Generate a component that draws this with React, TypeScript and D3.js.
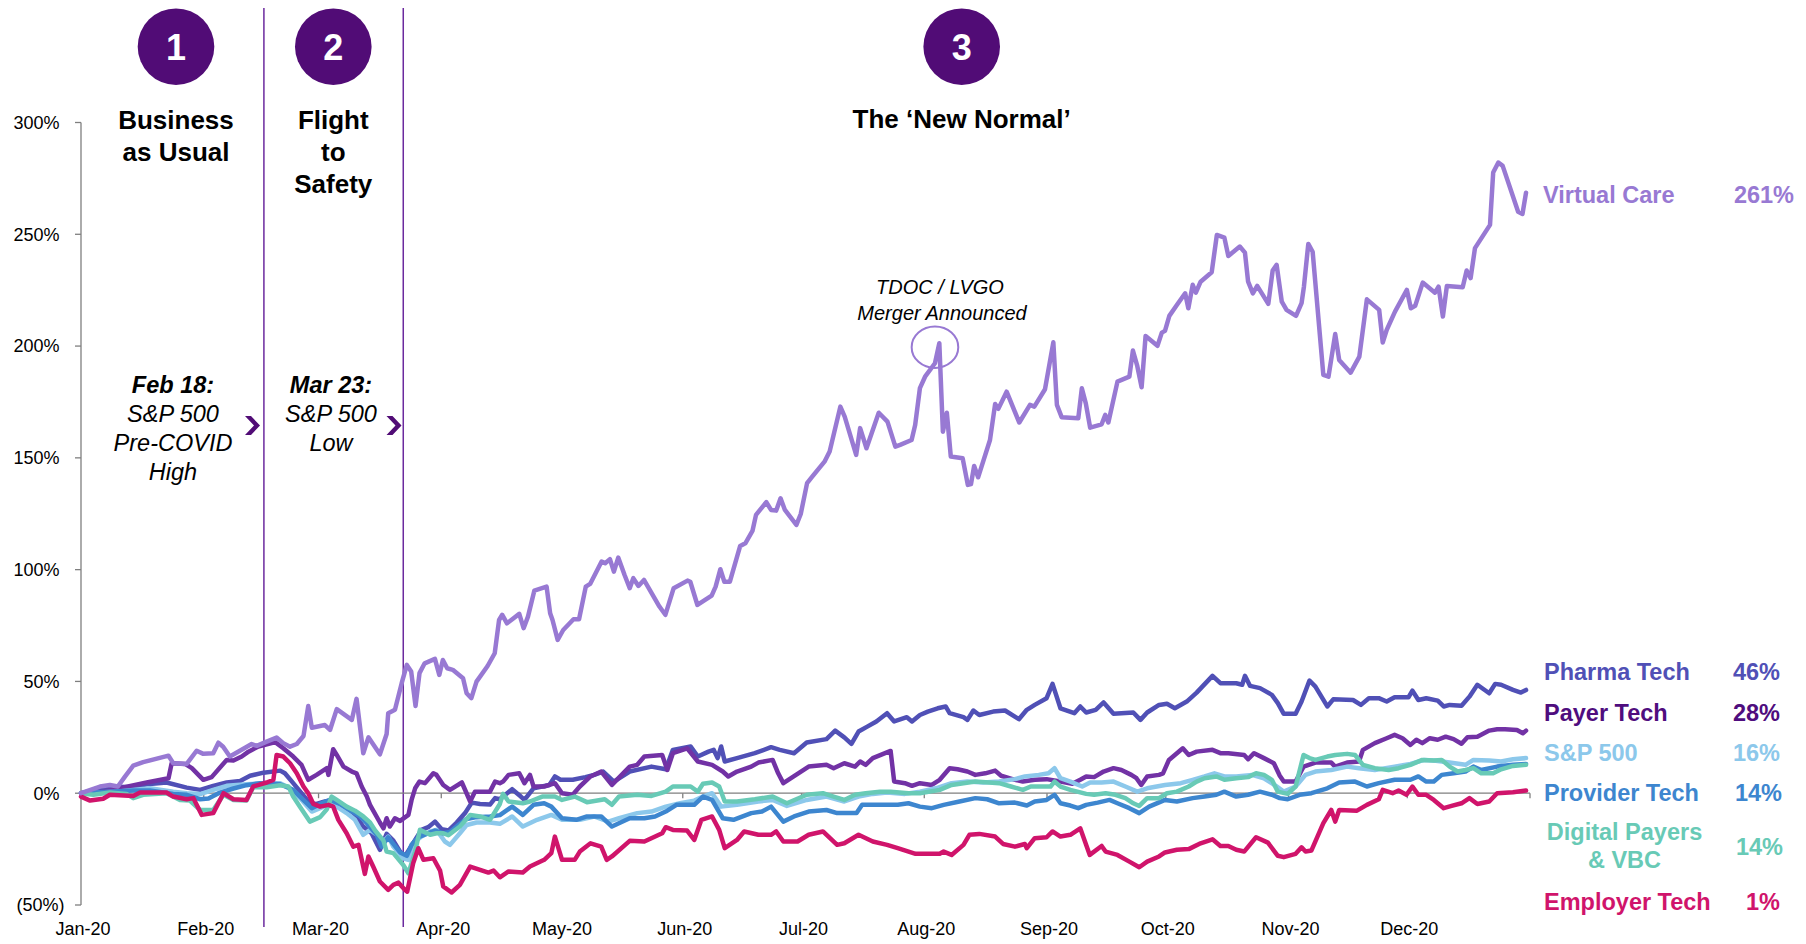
import React from "react";
import * as d3 from "d3";

// ---------- DATA (day offset from 1 Jan 2020, cumulative return %) ----------
const virtualCare: [number, number][] = [
  [0,0],[4.8,3],[7.3,3.7],[9.3,3],[11.1,7.4],[13.2,12.3],[15.7,13.9],[22.1,16.8],[23.3,13.4],[26.7,13.1],[29.2,19],[30.9,17.6],[33.4,17.9],[34.7,22.6],[35.9,20.8],[37.6,16.4],[41.9,20.8],[43.1,22],[44.4,21.2],[46.9,23.1],[49.4,24.9],[51.1,22.4],[52.8,20.8],[54.5,22],[56.2,25.6],[57.4,39],[58.3,29.3],[61.6,30.5],[62.9,28.3],[64.6,37.6],[68.4,32.8],[69.6,42.2],[71.3,17.9],[72.6,25],[75.5,17.4],[77.2,26.5],[77.6,35.8],[79.3,37.3],[81,49.2],[82.3,57.4],[83.4,54.4],[84.5,39],[85.5,53.7],[86.8,58.1],[89.4,60.1],[90.5,52.9],[91.4,59.6],[92.5,55.9],[93.9,55.2],[96.5,51.4],[97.4,44.7],[98.6,42.5],[99.9,49.9],[102.7,56.9],[104.5,62.6],[105.6,77.5],[106.4,79.8],[107.6,76],[110.7,80.2],[111.8,73.8],[112.9,79],[114.5,90.6],[117.6,92.4],[118.5,80.5],[119.1,77.5],[120.4,68.6],[121.8,73],[124.4,77.8],[125.8,77.8],[127.5,92.4],[128.6,93.6],[131.5,103.6],[132.4,102.9],[133.6,104.7],[134.6,99.1],[135.7,105.4],[137.3,97.6],[138.6,91.7],[139.5,96.2],[140.8,92.7],[142.2,95.4],[146.1,83.5],[147.6,79.8],[149.7,91.7],[153.2,95.1],[153.9,94.6],[155.7,84.2],[159.3,88.4],[160.3,92.4],[161.5,100.2],[162.5,94.6],[163.9,94.6],[166.5,110.6],[167.8,111.8],[169.6,117.3],[170.5,124.5],[173.1,130.2],[174.3,126.7],[175.6,126.4],[176.7,131.9],[177.8,126.7],[180.7,120],[181.8,124.9],[183.4,138.7],[184.7,141.6],[187.8,148.3],[189.1,152.8],[191.8,172.9],[192.9,168.4],[195.8,151.3],[196.8,163.3],[198.4,154.3],[201.5,170.2],[203.7,166.2],[205.7,155],[206.9,155.8],[209.8,158],[210.7,164.7],[211.9,181.2],[213.2,186.3],[215.7,192.3],[216.8,201.3],[217.7,161.7],[218.7,170.2],[219.7,150.6],[222.7,149.8],[224,137.9],[224.8,138.3],[225.6,146.4],[226.6,141.3],[229.6,158],[230.9,174.1],[231.7,171.9],[233.8,179.6],[237,165.8],[239.7,173.7],[240.8,172.9],[243.5,180.7],[245.6,201.7],[246.5,173.7],[247.7,168.2],[251.9,167.7],[252.8,181.1],[253.8,174.4],[254.9,163.5],[257.8,165],[258.7,169.2],[259.5,165.8],[261.8,184.1],[264.8,186.3],[265.7,198],[266.8,191.1],[267.9,181.6],[268.9,204.5],[271.9,200.1],[273,206],[273.8,206.8],[274.9,213.5],[276.8,218.4],[278.9,223.6],[279.7,216.9],[280.8,227.4],[281.6,223.9],[282.8,228.8],[285.6,233],[286.9,249.7],[288.8,248.5],[289.8,240.3],[292.7,244.5],[294,241.8],[294.8,228.8],[296,223.6],[297.1,226.9],[299.9,218.9],[301,233.8],[302,236.3],[303.3,219.9],[304.5,216.2],[306.9,213.5],[308.3,219.2],[308.9,226.6],[310,245.7],[311.1,242.2],[313.8,187.1],[315.1,186.3],[316.8,205.4],[317.8,193.8],[320.7,188.1],[322.9,195.3],[324.8,220.9],[327.9,216.2],[328.8,201.6],[329.8,207.2],[331.9,215.4],[334.9,225.1],[335.9,216.9],[337,218],[338.9,228.4],[342,223.9],[342.9,226.6],[344,213.2],[345,226.9],[349,226.3],[350,233.8],[351,230.4],[352.1,243.8],[355.9,254.2],[356.7,277.6],[358,282.1],[359.1,280.6],[363,260.1],[364.1,259.1],[365,268.6]
];

const pharmaTech: [number, number][] = [
  [0,0],[7.3,3],[13.2,2.7],[16.6,4],[21.6,4.8],[26.7,2.5],[30.1,1.5],[33.4,3.3],[36.8,4.8],[40.2,5.5],[42.7,7.8],[46.1,9.2],[50.3,10.1],[51.5,8.9],[53.6,4.5],[55.7,0],[57.8,-4.5],[59.5,-4.8],[61.6,-3.7],[63.7,-3],[66.3,-6],[68.8,-8.9],[71.3,-14.9],[73.4,-17.9],[75.5,-25.3],[77.2,-18.2],[78.9,-21.2],[80.6,-26.1],[81.8,-28.3],[83.1,-24.6],[84.4,-20.9],[86,-16.4],[87.7,-15.2],[89.4,-12.7],[91.1,-16.1],[92.8,-16.7],[94.9,-13.1],[97,-8.9],[98.7,-4.2],[100.8,-4.8],[103.3,-5.1],[104.6,-2.2],[105.8,-2.7],[108.9,1.8],[111.1,-1.5],[112,-3],[114.3,2.2],[118.3,3.7],[119.7,7.5],[121.1,6],[124.2,6],[127.4,7.2],[129.6,8.2],[131.9,9.7],[134.6,5.2],[138.6,9.7],[144.1,11.9],[147.7,10.7],[149.5,19.4],[154,20.9],[155.8,16.4],[158.5,18.6],[159.8,19.4],[160.8,15.7],[161.7,20.9],[162.6,14.2],[165.7,15.7],[170.2,17.9],[174.3,20.6],[176.5,19.4],[180.1,17.9],[183.3,22.7],[188.3,24.2],[190.5,28],[192.8,25],[194.6,22.1],[196.4,27.6],[198.6,29.8],[200.9,32.1],[203.6,35.8],[205.4,32.1],[208.6,34],[209.9,32.1],[211.9,35],[213.9,36.5],[216.4,38],[218.4,38.8],[219.4,35.8],[222.9,34],[223.9,32.8],[225.4,37],[226.9,35],[230.4,36.5],[233.4,37],[236.9,33.1],[238.9,37.3],[240.9,39.5],[243.9,42.5],[245.4,48.9],[247.4,38],[250.9,35.8],[252.4,38.8],[253.9,36.1],[256.3,37.3],[258.3,40.6],[260.8,35.5],[265.8,36.1],[267.6,32.8],[269.3,36.1],[272.3,39.5],[274.3,40],[276.3,38],[279.3,41],[281.8,45],[285.8,52.5],[287.8,49.2],[291.8,49.2],[293.3,48.5],[294,52.5],[295.3,48],[297.8,47],[300.8,44],[302.3,40.3],[303.8,35.5],[306.8,35.5],[308.3,41],[310.3,50.4],[311.8,47.7],[314.8,38.8],[316.3,42],[321.3,41.7],[323.3,39.5],[325.3,42.5],[327.8,42.5],[329.8,41],[331.8,42.9],[335.3,42.9],[336.3,45.9],[337.8,41.7],[339.8,42.5],[342.7,41.4],[344.2,38.8],[345.7,39.5],[348.7,39.1],[350.7,43.2],[352.7,48.5],[355.7,44.7],[357.2,48.9],[358.7,48.5],[361.7,46.2],[363.7,45],[365,46.2]
];

const payerTech: [number, number][] = [
  [0,0],[4.8,0.3],[16.6,4.8],[22.1,6.7],[22.9,13.4],[26.3,13.1],[28,11.2],[30.9,6],[33,7.2],[36.8,14.9],[38.5,14.6],[40.6,16.4],[42.3,18.6],[44.8,20.9],[48.6,22.7],[49.4,22.4],[51.1,20.1],[53.6,16.4],[55.7,12.7],[57.4,6],[59.5,8.2],[62.1,11.2],[62.5,8.2],[63.7,19.7],[64.6,17.1],[66.3,11.9],[68.4,9.7],[69.6,8.9],[70.9,3],[72.2,-1.5],[73,-5.2],[75.5,-13.1],[76.4,-15.7],[77.2,-11.2],[78,-14.9],[79.3,-11.2],[80.6,-12.4],[82.7,-9.7],[83.5,-3],[84.4,2.2],[85.5,5.2],[86.9,4.5],[89,8.9],[89.8,8.2],[91.5,3.7],[93.2,1.5],[96.2,4.8],[98.3,-3.7],[99.5,0.7],[103.3,0.7],[104.6,5.2],[105.8,4.5],[106.6,5.2],[108,8.2],[110.7,8.9],[112,4.5],[113.4,8.2],[114.3,3],[117,3],[119.7,4.5],[121.5,0],[124.2,-0.7],[126,3],[128.7,7.5],[131.4,9.7],[134.1,3.7],[138.6,11.9],[140.5,12.7],[142.3,16.4],[146.8,17.1],[148.1,10.4],[149.5,17.9],[153.1,20.1],[155.8,14.2],[159.4,12.7],[162.1,9.7],[163.5,7.5],[165.7,9.7],[169.3,11.9],[171.1,13.7],[174.7,14.9],[176.1,8.9],[177.4,4.5],[180.6,8.2],[183.8,11.9],[188.3,12.7],[190.1,11.2],[192.8,13.4],[195.5,11.9],[196.8,14.2],[198.2,12.7],[200,15.7],[204.5,18.9],[205.4,5.2],[208.1,4.5],[209.9,3.3],[211.9,4.5],[214.9,3.7],[216.9,6],[219.4,11.2],[221.4,10.7],[223.9,9.7],[225.9,8.2],[228.4,8.9],[230.9,10.1],[232.4,7.8],[235.9,6],[237.9,5.2],[240.9,6],[243.9,6.3],[247.4,5.2],[250.4,4.2],[252.4,6],[253.9,7.5],[255.9,7.2],[258.3,9.7],[260.8,11.2],[262.8,10.4],[265.3,8.2],[266.6,6.7],[267.8,3.7],[269.3,7.5],[272.3,8.2],[273.3,8.9],[274.8,14.9],[278.3,20.1],[279.8,17.1],[281.8,18.6],[285.8,19.4],[287.8,17.9],[289.8,17.9],[293.8,17.1],[294.8,15.2],[296.3,17.9],[298.8,15.7],[301.3,13.4],[302.8,7.8],[303.8,5.2],[306.8,5.2],[308.8,11.9],[311.8,13.7],[315.8,13.7],[316.8,11.9],[319.8,13.7],[322.8,14.2],[323.8,19.4],[326.8,22.4],[329.8,24.6],[331.8,26.1],[333.8,24.6],[335.8,21.6],[337.3,23.9],[338.8,22.4],[340.7,24.6],[342.7,23.9],[344.7,25.3],[346.7,24.2],[348.7,22.1],[350.2,25],[352.7,25.3],[355.7,28],[357.7,28.6],[359.7,28.6],[362.7,28.3],[364.2,26.8],[365,28]
];

const sp500: [number, number][] = [
  [0,0],[9,0.7],[17.4,2.2],[23.3,0.7],[26.7,0],[30.1,-0.4],[33.4,1.5],[36.8,3.3],[41.8,4],[46.9,4.5],[50.3,4.5],[52.8,2.2],[55.3,-2.2],[58.3,-8.2],[60.4,-6.7],[62.9,-4.5],[64.6,-6],[67.1,-8.9],[69.2,-11.9],[71.3,-18.6],[73,-16.4],[74.7,-18.6],[76.4,-21.6],[77.6,-19.4],[78.9,-23.9],[81.4,-29.1],[82.7,-29.8],[84.4,-21.6],[86,-19.4],[88.2,-17.1],[89.8,-16.4],[91.9,-21.6],[93.2,-23.1],[95.7,-17.9],[97.4,-14.2],[99.9,-13.1],[103.3,-13.1],[105.8,-13.7],[108.9,-10.4],[111.6,-14.9],[115.2,-11.9],[118.8,-9.7],[121.5,-11.9],[126,-11.9],[129.6,-10.4],[133.2,-12.7],[135.9,-11.2],[140.5,-8.9],[144.1,-8.2],[147.7,-6],[151.3,-4.5],[154.9,-3.3],[157.1,-1.5],[159.4,0],[161.7,-6],[165.7,-5.2],[171.1,-3.7],[174.7,-3],[178.3,-5.7],[183.3,-3],[188.3,-1.5],[192.8,-3.7],[196.4,-1.5],[200,-0.3],[203.6,0.3],[208.1,-0.3],[211.9,0.7],[215.9,2.2],[219.9,4.5],[223.9,5.2],[227.9,4.8],[231.9,5.2],[235.9,6.3],[238.4,7.5],[241.9,8.2],[244.4,8.9],[245.9,11.2],[247.4,6.7],[249.9,5.2],[252.9,3],[254.9,4.8],[257.8,4.8],[260.8,5.2],[263.8,3],[266.8,0.7],[269.3,2.2],[273.8,3.7],[277.8,4.5],[280.8,6],[283.8,7.5],[286.3,8.9],[288.8,7.5],[291.8,7.5],[295.8,8.2],[298.8,6.7],[301.8,3.3],[303.8,0.7],[306.8,3],[309.3,8.2],[311.8,9.7],[315.8,10.4],[319.8,11.9],[322.8,11.2],[326.8,10.4],[331.8,11.9],[335.8,13.1],[339.3,14.9],[341.7,14.6],[345.7,13.7],[349.7,12.7],[351.7,14.9],[355.7,14.6],[358.7,14.2],[361.7,15.2],[365,15.7]
];

const providerTech: [number, number][] = [
  [0,0],[13.2,1.2],[17.4,1.2],[23.3,-0.3],[26.7,-0.7],[30.1,-2.7],[32.2,-2.4],[35.1,0.3],[38.5,2.1],[41.8,3.6],[45.2,4.5],[50.3,4],[53.6,1.5],[55.7,-2.2],[58.3,-6.7],[60.4,-4.8],[62.9,-3],[65.4,-4.8],[67.9,-7.5],[70.5,-10.4],[72.2,-13.4],[74.7,-18.6],[75.9,-23.9],[77.6,-19.7],[79.3,-23.6],[80.6,-26.5],[82.3,-28],[83.5,-23.1],[85.2,-19.7],[87.3,-18.2],[89.4,-16.7],[91.5,-17.9],[93.2,-17.3],[95.7,-13.7],[97.4,-11.5],[99.9,-10.7],[103.3,-10.4],[105.8,-9.8],[108.9,-6],[111.6,-9.7],[114.3,-5.2],[117,-4.5],[118.8,-6],[121.5,-11.2],[125.1,-11.9],[127.8,-10.4],[131.4,-10.4],[134.1,-14.9],[138.6,-11.2],[142.3,-11.2],[145,-10.4],[147.7,-8.2],[150.4,-5.2],[154.9,-5.2],[157.1,-1.5],[159.4,-3],[162.1,-11.2],[164.8,-11.9],[169.3,-8.9],[172,-8.2],[174.3,-6],[177.4,-12.7],[180.1,-10.4],[183.8,-8.2],[188.3,-7.5],[191,-8.9],[195.9,-8.9],[197.3,-5.2],[201.8,-5.2],[206.3,-5.2],[209,-4.5],[211.9,-6],[214.9,-6.7],[217.9,-5.2],[221.9,-3.7],[225.9,-2.2],[228.9,-2.7],[231.9,-4.5],[235.9,-4.2],[238.9,-5.5],[240.9,-3.7],[243.9,-3],[245.9,-0.7],[247.4,-4.5],[249.9,-5.5],[251.9,-6.7],[253.9,-5.2],[256.8,-4.2],[259.8,-3],[261.8,-4.5],[264.8,-6.7],[267.3,-8.9],[269.8,-6],[273.8,-3],[276.8,-3.7],[280.8,-2.2],[283.8,-1.5],[286.8,-0.7],[288.8,0.7],[291.8,-1.5],[294.8,-0.7],[297.8,0.7],[300.8,-0.7],[302.8,-2.2],[304.8,-2.7],[307.8,-0.7],[310.8,0],[314.8,2.2],[317.8,4.8],[321.8,5.2],[324.8,3],[327.8,4.5],[331.8,6],[335.8,6],[337.8,7.5],[339.8,5.2],[341.7,5.2],[343.7,8.2],[346.7,8.9],[349.7,9.7],[351.7,11.9],[353.7,10.4],[357.7,11.9],[361.7,12.7],[365,13.1]
];

const digitalPayers: [number, number][] = [
  [0,0],[3.1,-0.7],[7.3,0.3],[11.5,-0.3],[13.2,-2.2],[15.7,-0.7],[21.6,0],[25,-3],[27.5,-3.3],[30.1,-7.5],[33.4,-7.5],[36,-0.7],[38.5,-3],[41.8,-3.3],[43.5,2.7],[46.9,2.7],[50.3,3.6],[52.4,3],[53.6,-1.5],[55.3,-6],[57.8,-12.7],[60.4,-10.7],[62.1,-7.2],[63.3,-1.5],[64.6,-3],[67.1,-6],[69.2,-7.8],[71.3,-10.4],[73,-13.1],[74.3,-16.7],[76.4,-21.2],[77.2,-26.1],[78.9,-26.8],[81.4,-32.1],[82.7,-35.8],[84.4,-26.1],[85.6,-16.4],[88.2,-18.6],[89.8,-17.9],[91.5,-17.9],[92.8,-18.8],[95.7,-14.9],[98.3,-9.7],[100.8,-10.4],[103.3,-11.9],[105.8,-4.8],[106.6,-0.3],[108,-3.7],[111.6,-4.5],[113.4,-3.7],[116.5,-1.5],[119.7,-1.5],[121.5,-3],[124.7,-1.5],[127.8,-4],[132.3,-2.7],[134.1,-5.2],[135.9,-1.5],[140.5,-0.7],[144.1,-1.2],[147.7,0.7],[149.5,3],[154,3],[155.8,0.7],[157.1,4.2],[159.4,4.8],[161.2,3],[162.6,-3.7],[165.7,-3.7],[170.2,-2.7],[174.7,-1.5],[178.3,-4.5],[183.3,-0.7],[187.4,0],[190.1,-1.5],[192.8,-3],[195.5,-0.7],[198.2,0],[201.8,0.7],[204.5,0.7],[209,0],[211.9,0],[216.9,1.5],[219.9,3.7],[222.9,4.5],[225.9,5.2],[231.9,4.5],[234.9,3],[237.9,1.5],[239.9,3],[244.9,3],[245.9,5.2],[247.4,3],[249.9,1.5],[253.9,-0.3],[255.9,-0.7],[258.8,0],[261.3,-0.7],[263.8,-2.2],[265.8,-4.5],[267.3,-5.7],[269.3,-2.2],[272.3,-2.2],[274.3,0],[276.8,0.7],[279.8,3],[281.8,5.2],[283.8,6.7],[286.8,7.5],[288.8,6],[291.8,6.7],[294.8,7.2],[296.8,8.9],[298.8,8.2],[300.8,6],[302.3,0.7],[304.8,-0.3],[306.8,3],[308.8,17.1],[310.3,15.7],[311.8,14.9],[314.8,16.4],[316.8,17.1],[319.8,17.6],[321.8,17.1],[323.8,12.7],[326.8,11.2],[330.3,10.4],[332.8,11.2],[335.8,12.7],[338.8,14.9],[341.7,14.6],[343.7,14.9],[345.7,11.9],[347.7,9.7],[349.7,10.4],[351.7,11.2],[353.7,8.9],[356.7,8.9],[358.7,10.7],[361.7,12.2],[365,12.7]
];

const employerTech: [number, number][] = [
  [0,-1.5],[2.3,-3.3],[5.6,-2.5],[7.3,-0.7],[13.2,-1.2],[14.9,0.3],[21.6,0.3],[23.3,-1.5],[26.7,-2.7],[28.4,-2.2],[30.5,-9.7],[33.4,-8.9],[36,0],[38.5,-2.7],[41.8,-3],[43.5,3],[46.9,4.8],[48.6,6],[49.4,17.1],[51.1,16.4],[52.8,13.4],[54.5,8.9],[56.2,3],[57.4,0],[58.7,-4.8],[60.4,-6],[62.5,-5.2],[63.7,-6],[65,-11.9],[67.1,-17.9],[68.8,-23.9],[70.1,-23.1],[71.7,-36.1],[72.6,-28.3],[73.8,-32.8],[75.5,-39.5],[77.6,-43.2],[78.9,-41],[80.2,-40],[81.8,-43.2],[82.4,-44],[83.9,-31.3],[85.2,-24.6],[86.5,-29.8],[89,-29.1],[90.7,-34.6],[91.5,-41.7],[93.6,-44.4],[95.7,-41],[98.3,-32.8],[100.8,-34.3],[102.9,-35.5],[104.2,-34.6],[105.8,-37.6],[108,-35],[111.6,-35.5],[113.4,-32.8],[117,-29.8],[118.8,-26.8],[119.7,-19.4],[121.5,-29.8],[124.7,-29.8],[126,-26.1],[128.7,-22.4],[131.4,-23.9],[132.8,-29.8],[134.1,-28.3],[138.6,-21.3],[142.3,-21.6],[146.8,-17.9],[147.7,-15.2],[149.5,-16.4],[153.1,-16.7],[154.9,-20.9],[156.7,-11.9],[159.4,-10.4],[161.2,-16.4],[162.6,-24.6],[165.7,-20.9],[167.5,-17.1],[171.1,-18.6],[174.3,-18.6],[175.6,-17.1],[177.4,-21.6],[181,-21.6],[183.8,-18.6],[187.4,-17.1],[191,-23.1],[192.8,-22.4],[196.4,-18.6],[200,-21.6],[203.6,-23.1],[206.3,-24.6],[210.8,-27.1],[216.9,-27.1],[217.9,-26.1],[219.9,-27.6],[222.9,-23.1],[224.4,-18.6],[226.9,-18.2],[230.9,-19.4],[232.9,-22.7],[235.9,-23.9],[238.4,-22.7],[238.9,-24.6],[240.9,-20.1],[243.9,-19.7],[245.4,-17.1],[247.4,-19.4],[249.9,-18.6],[252.4,-15.7],[254.8,-27.6],[257.8,-23.6],[258.8,-26.1],[261.8,-27.6],[264.8,-30.6],[267.3,-33.1],[269.3,-30.6],[272.3,-28.3],[273.8,-26.5],[276.8,-25.3],[279.8,-25],[282.8,-22.4],[285.8,-20.6],[287.8,-23.6],[289.8,-23.6],[291.8,-25.3],[293.8,-26.1],[296.8,-19.7],[299.8,-22.1],[302.3,-28],[303.8,-28.6],[306.8,-27.1],[308.3,-24.2],[309.3,-26.1],[310.8,-25.6],[313.8,-13.4],[315.8,-7.5],[316.8,-12.7],[317.8,-7.5],[322.3,-7.8],[324.8,-5.2],[327.8,-2.7],[328.8,1.5],[331.3,0],[332.8,1.2],[334.8,-0.7],[336.3,3],[337.8,-0.7],[339.8,-0.7],[341.7,-3],[344.2,-6.7],[346.2,-5.7],[348.7,-4.5],[350.7,-2.2],[352.7,-4.8],[355.7,-3.7],[357.7,0],[361.7,0.4],[365,1.2]
];

const yTickValues = [-50, 0, 50, 100, 150, 200, 250, 300];
const phaseBreakDays = [46.2, 81.4];
const phaseNumbers = ["1", "2", "3"];
const mergerAnnotation: [number, number] = [215.7, 199.5];

// drawing order (bottom to top)
const seriesNames = ["Pharma Tech", "Payer Tech", "S&P 500", "Provider Tech", "Digital Payers & VBC", "Employer Tech", "Virtual Care"];
const seriesData = [pharmaTech, payerTech, sp500, providerTech, digitalPayers, employerTech, virtualCare];
const endReturnLabels = ["46%", "28%", "16%", "14%", "14%", "1%", "261%"];

// ---------- STYLE ----------
const FONT = "'Liberation Sans', Arial, Helvetica, sans-serif";
const DARK = "#510C76";
const lineColors: Record<string, string> = {
  "Virtual Care": "#9879D3",
  "Pharma Tech": "#5050B6",
  "Payer Tech": "#7232A5",
  "S&P 500": "#8CC8EB",
  "Provider Tech": "#3D86CF",
  "Digital Payers & VBC": "#68CAB6",
  "Employer Tech": "#D0146B",
};
const labelColors: Record<string, string> = { ...lineColors, "Payer Tech": "#4F0D7E" };

const W = 1806, H = 944;
const start = new Date(2020, 0, 1);
const dayToDate = (d: number) => new Date(start.getTime() + d * 86400000);

const x = d3.scaleTime().domain([start, new Date(2021, 0, 1)]).range([81, 1530]);
const y = d3.scaleLinear().domain([-50, 300]).range([905, 122.5]);
const line = d3.line<[number, number]>()
  .x((d) => x(dayToDate(d[0])))
  .y((d) => y(d[1]));

const monthTicks = d3.timeMonth.range(start, new Date(2021, 0, 2));
const fmtMonth = d3.timeFormat("%b-%y");
const fmtPct = (v: number) => (v < 0 ? `(${Math.abs(v)}%)` : `${v}%`);

// end-label layout per series
const legendLayout: Record<string, { x: number; y: number; py: number; px: number }> = {
  "Virtual Care": { x: 1543, y: 203, px: 1794, py: 203 },
  "Pharma Tech": { x: 1544, y: 680, px: 1780, py: 680 },
  "Payer Tech": { x: 1544, y: 721, px: 1780, py: 721 },
  "S&P 500": { x: 1544, y: 761, px: 1780, py: 761 },
  "Provider Tech": { x: 1544, y: 801, px: 1782, py: 801 },
  "Digital Payers & VBC": { x: 1624.5, y: 840, px: 1783, py: 855 },
  "Employer Tech": { x: 1544, y: 910, px: 1780, py: 910 },
};

function Chevron({ cx, cy }: { cx: number; cy: number }) {
  const p = [[cx - 7.5, cy - 9.5], [cx - 1.5, cy - 9.5], [cx + 7.5, cy], [cx - 1.5, cy + 9.5], [cx - 7.5, cy + 9.5], [cx + 1.5, cy]];
  return <polygon points={p.map((q) => q.join(",")).join(" ")} fill={DARK} />;
}

export default function App() {
  const phaseCircles = [176, 333.3, 961.7];
  const [ax, ay] = [x(dayToDate(mergerAnnotation[0])), y(mergerAnnotation[1])];
  return (
    <svg width={W} height={H} style={{ position: "absolute", left: 0, top: 0, background: "#fff" }} fontFamily={FONT}>
      {/* phase separators */}
      {phaseBreakDays.map((d, i) => (
        <line key={i} x1={x(dayToDate(d))} x2={x(dayToDate(d))} y1={8} y2={927} stroke="#6B2A9E" strokeWidth={1.5} />
      ))}

      {/* phase circles */}
      {phaseNumbers.map((n, i) => (
        <g key={n}>
          <circle cx={phaseCircles[i]} cy={46.7} r={38.3} fill={DARK} />
          <text x={phaseCircles[i]} y={46.7} dy="0.36em" textAnchor="middle" fill="#fff" fontWeight="bold" fontSize={36}>{n}</text>
        </g>
      ))}

      {/* phase titles */}
      <g fontWeight="bold" fontSize={26} textAnchor="middle" fill="#000">
        <text x={176} y={129.3}>Business</text>
        <text x={176} y={161.3}>as Usual</text>
        <text x={333.3} y={129.3}>Flight</text>
        <text x={333.3} y={161.3}>to</text>
        <text x={333.3} y={192.7}>Safety</text>
        <text x={961.7} y={128.3}>The ‘New Normal’</text>
      </g>

      {/* phase notes */}
      <g fontStyle="italic" fontSize={23.5} textAnchor="middle" fill="#000">
        <text x={173} y={393} fontWeight="bold">Feb 18:</text>
        <text x={173} y={422}>S&amp;P 500</text>
        <text x={173} y={451}>Pre-COVID</text>
        <text x={173} y={480}>High</text>
        <text x={331} y={393} fontWeight="bold">Mar 23:</text>
        <text x={331} y={422}>S&amp;P 500</text>
        <text x={331} y={451}>Low</text>
      </g>
      <Chevron cx={252.5} cy={425.5} />
      <Chevron cx={394} cy={425.5} />

      {/* y axis */}
      <line x1={81} x2={81} y1={y(300)} y2={y(-50)} stroke="#7f7f7f" strokeWidth={1.3} />
      {yTickValues.map((v) => (
        <g key={v}>
          <line x1={75} x2={81} y1={y(v)} y2={y(v)} stroke="#7f7f7f" strokeWidth={1.3} />
          <text x={v < 0 ? 64.5 : 59.5} y={y(v)} dy="0.35em" textAnchor="end" fontSize={18} fill="#000">{fmtPct(v)}</text>
        </g>
      ))}

      {/* x axis at zero */}
      <line x1={81} x2={x(new Date(2021, 0, 1))} y1={y(0)} y2={y(0)} stroke="#7f7f7f" strokeWidth={1.3} />
      {monthTicks.map((m, i) => (
        <g key={i}>
          <line x1={x(m)} x2={x(m)} y1={y(0)} y2={y(0) + 5} stroke="#7f7f7f" strokeWidth={1.3} />
          {m.getFullYear() === 2020 && (
            <text x={x(m) + 2} y={935} textAnchor="middle" fontSize={18} fill="#000">{fmtMonth(m)}</text>
          )}
        </g>
      ))}

      {/* series */}
      {seriesData.map((s, i) => (
        <path key={seriesNames[i]} d={line(s) || ""} fill="none" stroke={lineColors[seriesNames[i]]}
          strokeWidth={4.5} strokeLinejoin="round" strokeLinecap="round" />
      ))}

      {/* merger annotation */}
      <ellipse cx={ax} cy={ay} rx={23.3} ry={20.7} fill="none" stroke={lineColors["Virtual Care"]} strokeWidth={2} />
      <g fontStyle="italic" fontSize={20} textAnchor="middle" fill="#000">
        <text x={940} y={294}>TDOC / LVGO</text>
        <text x={942} y={320}>Merger Announced</text>
      </g>

      {/* end labels */}
      <g fontWeight="bold" fontSize={23.5}>
        {seriesNames.map((n, i) => {
          const L = legendLayout[n];
          const c = labelColors[n];
          return (
            <g key={n} fill={c}>
              {n === "Digital Payers & VBC" ? (
                <text x={L.x} y={L.y} textAnchor="middle">
                  <tspan x={L.x} y={L.y}>Digital Payers</tspan>
                  <tspan x={L.x} y={L.y + 28}>&amp; VBC</tspan>
                </text>
              ) : (
                <text x={L.x} y={L.y}>{n}</text>
              )}
              <text x={L.px} y={L.py} textAnchor="end">{endReturnLabels[i]}</text>
            </g>
          );
        })}
      </g>
    </svg>
  );
}
